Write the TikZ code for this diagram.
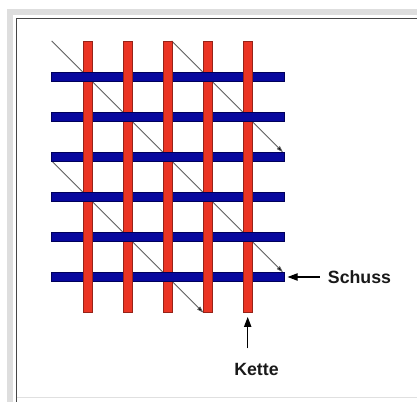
\documentclass[tikz,border=0pt]{standalone}
\usepackage{fontspec}
\setmainfont{Liberation Sans}
\usetikzlibrary{arrows.meta}
\definecolor{warpred}{RGB}{234,52,36}
\definecolor{warpedge}{RGB}{150,35,25}
\definecolor{weftblue}{RGB}{8,8,158}
\definecolor{weftedge}{RGB}{0,0,90}
\definecolor{diagcol}{RGB}{95,95,95}
\definecolor{framegray}{RGB}{222,222,222}
\definecolor{framedark}{RGB}{70,70,70}
\begin{document}
\begin{tikzpicture}[x=0.75pt,y=-0.75pt,
  warp/.style={draw=warpedge, line width=0.4pt, fill=warpred, inner sep=0pt,
    minimum width=6.75pt, minimum height=203.8pt},
  weft/.style={draw=weftedge, line width=0.4pt, fill=weftblue, inner sep=0pt,
    minimum width=174.2pt, minimum height=6.75pt},
  diagline/.style={draw=diagcol, line width=0.6pt,
    -{Triangle[length=5pt,width=3pt,fill=black]}},
  bigarrow/.style={draw=black, line width=0.8pt,
    -{Triangle[length=7.5pt,width=5.5pt]}},
  lbl/.style={inner sep=0pt, text=black!90,
    font=\fontsize{13.3}{16}\selectfont\bfseries}]
\useasboundingbox (0,0) rectangle (417,402);
\fill[white] (0,0) rectangle (417,402);
% frame
\draw[framegray, line width=4.5pt] (10,11.7) rectangle (440,430);
\draw[framedark, line width=0.8pt] (16.7,430) |- (440,18.8);
\draw[black!12, line width=0.6pt] (17,397) -- (417,397);
% diagonal lines (drawn under the bars)
\coordinate (a0) at (51.7,41);   \coordinate (a1) at (283,272.3);
\coordinate (b0) at (171.7,41);  \coordinate (b1) at (283,152.3);
\coordinate (c0) at (51.7,161);  \coordinate (c1) at (203.4,312.7);
\draw[diagline] (a0) -- (a1);
\draw[diagline] (b0) -- (b1);
\draw[diagline] (c0) -- (c1);
% weft (blue)
\foreach \j in {1,...,6}
  \node[weft] (r\j) at (167.85,{77+40*(\j-1)}) {};
% warp (red)
\foreach \i in {1,...,5}
  \node[warp] (w\i) at ({87.7+40*(\i-1)},176.85) {};
% crossings where the weft lies on top
\foreach \i/\j in {1/1,2/2,3/3,4/4,5/5,4/1,5/2,1/4,2/5,3/6}{
  \pgfmathsetmacro{\cx}{87.7+40*(\i-1)}
  \pgfmathsetmacro{\cy}{77+40*(\j-1)}
  \fill[weftblue] (\cx-5.3,\cy-4.5) rectangle (\cx+5.3,\cy+4.5);
  \draw[weftedge, line width=0.4pt] (\cx-5.3,\cy-4.5) -- (\cx+5.3,\cy-4.5)
    (\cx-5.3,\cy+4.5) -- (\cx+5.3,\cy+4.5);
}
% labels
\node[lbl, anchor=west] (schuss) at (327.7,277) {Schuss};
\node[lbl] (kette) at (256.5,369.5) {Kette};
\draw[bigarrow, shorten <=5.8pt, shorten >=2.5pt] (schuss.west) -- (r6.east);
\coordinate (kt) at (247.7,348.3);
\draw[bigarrow, shorten >=3pt] (kt) -- (w5.south);
\end{tikzpicture}
\end{document}
